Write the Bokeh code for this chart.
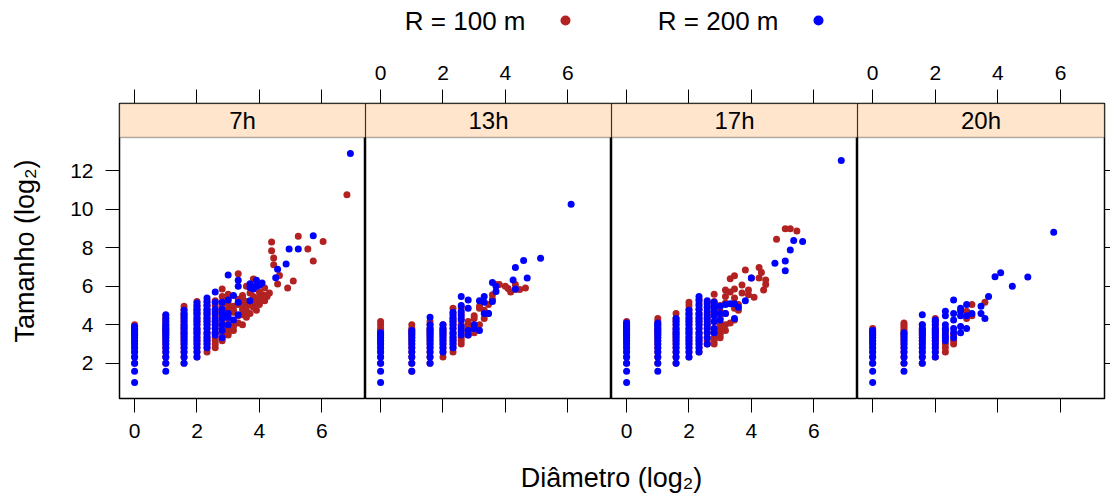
import numpy as np
from bokeh.plotting import figure
from bokeh.models import Range1d, LinearAxis, FixedTicker, BoxAnnotation, Label
from bokeh.layouts import column, row
from bokeh.embed import file_html
from bokeh.resources import INLINE
from bokeh.core.properties import value

FONT = "Liberation Sans"
RED = "#B22222"
BLUE = "#0000FF"
STRIP = "#FFE5CC"

panels = ["7h", "13h", "17h", "20h"]
series_labels = ["R = 100 m", "R = 200 m"]
x_title = "Diâmetro (log₂)"
y_title = "Tamanho (log₂)"
x_ticks = [0, 2, 4, 6]
y_ticks = [2, 4, 6, 8, 10, 12]

# raw diameters of the small-diameter columns (sizes per column listed below)
col_diam = [1, 2, 3, 4, 5, 6, 7, 8]

# ---------------- 7h ----------------
r100_7h_cols = [
    [4, 5, 6, 7, 8, 9, 10, 11, 12, 13, 14, 15, 16],
    [4, 5, 6, 7, 8, 9, 10, 11, 12, 13, 14, 16, 18, 20, 22],
    [4, 5, 6, 7, 8, 9, 10, 11, 12, 14, 16, 18, 20, 22, 24, 28, 31],
    [5, 6, 7, 8, 9, 10, 12, 14, 16, 18, 20, 24, 28, 32, 37],
    [6, 7, 8, 9, 10, 12, 14, 16, 18, 20, 24, 28, 32, 38],
    [7, 8, 9, 10, 12, 14, 16, 18, 22, 26, 32, 38],
    [9, 10, 12, 14, 16, 18, 22, 26, 30, 36, 44, 58],
    [11, 12, 14, 16, 20, 24, 28, 34, 40, 48],
]
r100_7h_d = [9, 9, 9, 9, 9, 10, 10, 10, 10, 10, 11, 11, 11, 11, 11, 11, 12, 12, 12, 12, 12,
             13, 13, 13, 14, 14, 14, 14, 15, 15, 15, 16, 16, 17, 17, 18, 18, 18, 19, 20,
             21, 21, 22, 22, 24, 25, 30, 34, 38, 47, 53, 66, 112]
r100_7h_s = [13, 15, 25, 27, 31, 17, 22, 33, 40, 100, 16, 23, 28, 35, 42, 46, 21, 26, 30, 37, 64,
             24, 34, 50, 30, 44, 64, 83, 27, 36, 42, 33, 52, 40, 47, 38, 46, 60, 44, 50,
             229, 313, 139, 176, 69, 94, 60, 77, 388, 244, 159, 320, 1730]
b200_7h_cols = [
    [2, 3, 4, 5, 6, 7, 8, 9, 10, 11, 12, 13, 14, 15],
    [3, 4, 5, 6, 7, 8, 9, 10, 11, 12, 13, 14, 15, 16, 18, 20, 23],
    [4, 5, 6, 7, 8, 9, 10, 11, 12, 13, 14, 15, 16, 18, 20, 22, 24, 27],
    [5, 6, 7, 8, 9, 10, 11, 12, 13, 14, 16, 18, 20, 22, 24, 26, 28, 31, 35],
    [7, 8, 9, 10, 11, 12, 14, 16, 18, 20, 22, 24, 26, 28, 32, 36, 42],
    [11, 12, 14, 16, 18, 20, 24, 28, 36, 52],
    [10, 13, 16, 20, 24, 28, 36],
    [16, 21, 24, 39, 96],
]
b200_7h_d = [9, 9, 10, 10, 10, 10, 13, 13, 13, 14, 15, 15, 16, 17, 23, 24, 29, 31, 38, 53, 121]
b200_7h_s = [19, 46, 23, 36, 64, 79, 38, 61, 70, 58, 64, 79, 66, 72, 87, 118, 142, 244, 244, 393, 7600]

# ---------------- 13h ----------------
r100_13h_cols = [
    [4, 5, 6, 7, 8, 9, 10, 11, 12, 13, 14, 16, 18],
    [3, 4, 5, 6, 7, 8, 9, 10, 11, 12, 13, 14, 16],
    [4, 5, 6, 7, 8, 9, 10, 11, 12, 13, 14, 16, 18],
    [5, 6, 7, 8, 9, 10, 11, 12, 13, 14, 16],
    [6, 7, 8, 9, 10, 12, 14, 16, 18, 20, 24, 29],
    [8, 9, 10, 12, 14, 16, 20, 24, 30],
    [11, 12, 13, 14, 16, 18],
    [12, 14, 15, 20, 22],
]
r100_13h_d = [9, 9, 9, 10, 10, 11, 11, 12, 12, 13, 14, 16, 17, 18, 20, 20, 22, 25]
r100_13h_s = [16, 29, 31, 20, 27, 24, 33, 40, 47, 68, 68, 64, 59, 52, 68, 57, 57, 60]
b200_13h_cols = [
    [2, 3, 4, 5, 6, 7, 8, 9, 10, 11, 12],
    [3, 4, 5, 6, 7, 8, 9, 10, 11, 12, 13],
    [4, 5, 6, 7, 8, 9, 10, 11, 12, 13, 14, 16, 21],
    [6, 7, 8, 9, 10, 11, 12, 13, 14, 16],
    [7, 8, 9, 10, 11, 12, 14, 16, 18, 20, 22, 25],
    [11, 13, 15, 19, 22, 26, 32, 44],
    [11, 13, 29, 39],
    [14, 16],
]
b200_13h_d = [9, 9, 10, 10, 10, 11, 12, 12, 13, 13, 19, 20, 20, 24, 26, 35, 69]
b200_13h_s = [13, 38, 24, 36, 44, 24, 37, 73, 53, 64, 80, 58, 125, 161, 86, 175, 1225]

# ---------------- 17h ----------------
r100_17h_cols = [
    [4, 5, 6, 7, 8, 9, 10, 11, 12, 13, 14, 15, 16, 18],
    [4, 5, 6, 7, 8, 9, 10, 11, 12, 13, 14, 16, 18, 20],
    [4, 5, 6, 7, 8, 9, 10, 11, 12, 14, 16, 18, 20, 24],
    [5, 6, 7, 8, 9, 10, 12, 14, 16, 18, 20, 24, 28, 32, 36],
    [6, 7, 8, 9, 10, 12, 14, 16, 18, 20, 24, 28, 34, 40],
    [8, 9, 10, 12, 14, 16, 20, 24, 30, 36],
    [8, 9, 10, 12, 14, 18, 24, 30, 37, 48],
    [10, 11, 12, 14, 16, 20, 26, 32],
]
r100_17h_d = [9, 9, 9, 9, 9, 9, 10, 10, 10, 11, 11, 11, 11, 11, 12, 12, 13, 13, 14, 15, 15,
              16, 17, 19, 19, 20, 21, 22, 22, 28, 34, 38, 44]
r100_17h_s = [13, 16, 24, 35, 44, 56, 17, 52, 84, 19, 29, 42, 58, 93, 27, 33, 50, 67, 115, 47, 56,
              86, 43, 86, 125, 105, 56, 68, 80, 347, 508, 508, 468]
b200_17h_cols = [
    [2, 3, 4, 5, 6, 7, 8, 9, 10, 11, 12, 13, 14, 15, 16, 17],
    [3, 4, 5, 6, 7, 8, 9, 10, 11, 12, 13, 14, 15, 16, 17],
    [4, 5, 6, 7, 8, 9, 10, 11, 12, 13, 14, 16, 18, 20],
    [5, 6, 7, 8, 9, 10, 11, 12, 13, 14, 16, 18, 20, 22, 24, 27],
    [6, 7, 8, 9, 10, 11, 12, 14, 16, 18, 20, 22, 24, 28, 32, 38, 44],
    [8, 10, 12, 14, 16, 18, 20, 22, 26, 30, 34, 38],
    [12, 14, 18, 22, 26, 29, 33, 36],
    [19, 24, 31],
]
b200_17h_d = [9, 9, 10, 11, 11, 12, 14, 16, 27, 34, 34, 38, 41, 50, 118]
b200_17h_s = [24, 33, 34, 20, 34, 30, 38, 86, 146, 112, 159, 235, 331, 320, 5900]

# ---------------- 20h ----------------
r100_20h_cols = [
    [4, 5, 6, 7, 8, 9, 10, 11, 12, 13, 14],
    [4, 5, 6, 7, 8, 9, 10, 11, 12, 13, 14, 15, 16, 17],
    [4, 5, 6, 7, 8, 9, 10, 11, 12, 13, 14, 16],
    [5, 6, 7, 8, 9, 10, 11, 12, 13, 14, 16, 18, 20],
    [6, 7, 8, 10, 12],
    [8, 9, 11],
    [],
    [20, 26],
]
r100_20h_d = [9, 9, 12]
r100_20h_s = [22, 33, 36]
b200_20h_cols = [
    [2, 3, 4, 5, 6, 7, 8, 9, 10, 11, 12, 13],
    [3, 4, 5, 6, 7, 8, 9, 10, 11, 12],
    [4, 5, 6, 7, 8, 9, 10, 11, 12, 13, 14, 16, 23],
    [5, 6, 7, 8, 9, 10, 11, 12, 13, 14, 16, 18, 19],
    [9, 10, 11, 13, 14, 16, 22, 26],
    [10, 12, 14, 19, 24, 39],
    [12, 15, 22, 26, 29],
    [14, 22, 33],
]
b200_20h_d = [9, 11, 11, 12, 13, 15, 17, 22, 31, 55]
b200_20h_s = [24, 24, 31, 20, 44, 90, 104, 64, 89, 446]


def to_log(cols, extra_d, extra_s):
    d, s = [], []
    for diam, sizes in zip(col_diam, cols):
        d.extend([diam] * len(sizes))
        s.extend(sizes)
    d.extend(extra_d)
    s.extend(extra_s)
    return np.log2(np.array(d, dtype=float)), np.log2(np.array(s, dtype=float))


data = {
    "7h": (to_log(r100_7h_cols, r100_7h_d, r100_7h_s), to_log(b200_7h_cols, b200_7h_d, b200_7h_s)),
    "13h": (to_log(r100_13h_cols, r100_13h_d, r100_13h_s), to_log(b200_13h_cols, b200_13h_d, b200_13h_s)),
    "17h": (to_log(r100_17h_cols, r100_17h_d, r100_17h_s), to_log(b200_17h_cols, b200_17h_d, b200_17h_s)),
    "20h": (to_log(r100_20h_cols, r100_20h_d, r100_20h_s), to_log(b200_20h_cols, b200_20h_d, b200_20h_s)),
}

all_x = np.concatenate([s[0] for v in data.values() for s in v])
all_y = np.concatenate([s[1] for v in data.values() for s in v])
xmin, xmax = all_x.min(), all_x.max()
ymin, ymax = all_y.min(), all_y.max()
x_lo, x_hi = xmin - 0.07 * (xmax - xmin), xmax + 0.07 * (xmax - xmin)
y_lo, y_hi = ymin - 0.07 * (ymax - ymin), ymax + 0.07 * (ymax - ymin)

STRIP_PX, PANEL_PX = 34, 261
y_top = y_hi + (y_hi - y_lo) * STRIP_PX / PANEL_PX

widths = [365, 246, 246, 253]
PANEL_H = 410


def make_axis(ticks, show_labels, tick_out=14, standoff=12):
    ax = LinearAxis(ticker=FixedTicker(ticks=ticks))
    ax.axis_line_color = None
    ax.major_tick_out = tick_out
    ax.major_tick_in = 0
    ax.minor_tick_line_color = None
    ax.major_tick_line_color = "black"
    ax.major_tick_line_width = 1
    ax.major_label_text_font = FONT
    ax.major_label_text_font_size = "21px"
    ax.major_label_text_color = "black"
    ax.major_label_standoff = standoff
    if not show_labels:
        ax.major_label_overrides = {t: "" for t in ticks}
    return ax


figs = []
for i, name in enumerate(panels):
    p = figure(width=widths[i], height=PANEL_H,
               x_range=Range1d(x_lo, x_hi), y_range=Range1d(y_lo, y_top),
               x_axis_location=None, y_axis_location=None,
               toolbar_location=None, output_backend="svg",
               min_border_left=119 if i == 0 else 0,
               min_border_right=6 if i == 3 else 0,
               min_border_top=58, min_border_bottom=57)
    p.grid.visible = False
    p.outline_line_color = "black"
    p.outline_line_width = 1.5
    p.background_fill_color = "white"
    p.border_fill_color = "white"

    p.add_layout(make_axis(x_ticks, i in (0, 2), standoff=11), "below")
    p.add_layout(make_axis(x_ticks, i in (1, 3), standoff=10), "above")
    if i == 0:
        ay = make_axis(y_ticks, True, standoff=12)
        ay.axis_label = y_title
        ay.axis_label_text_font = FONT
        ay.axis_label_text_font_size = "27px"
        ay.axis_label_text_font_style = "normal"
        ay.axis_label_text_color = "black"
        ay.axis_label_standoff = 27
        p.add_layout(ay, "left")
    if i == 3:
        p.add_layout(make_axis(y_ticks, False, tick_out=6, standoff=0), "right")

    p.add_layout(BoxAnnotation(bottom=y_hi, top=y_top, fill_color=STRIP, fill_alpha=1.0,
                               line_color="black", line_width=1.5))
    p.add_layout(Label(x=(x_lo + x_hi) / 2, y=(y_hi + y_top) / 2, text=name,
                       text_align="center", text_baseline="middle",
                       text_font=FONT, text_font_size="24px", text_color="black"))

    (rx, ry), (bx, by) = data[name]
    p.scatter(rx, ry, size=7, marker="circle", fill_color=RED, line_color=None)
    p.scatter(bx, by, size=7, marker="circle", fill_color=BLUE, line_color=None)
    figs.append(p)

# key (legend) on top
leg = figure(width=1110, height=45, x_range=Range1d(0, 1110), y_range=Range1d(45, 0),
             toolbar_location=None, output_backend="svg",
             x_axis_location=None, y_axis_location=None, min_border=0)
leg.grid.visible = False
leg.outline_line_color = None
leg.text(x=[525, 778], y=[20, 20], text=series_labels, text_align="right",
         text_baseline="middle", text_font=value(FONT), text_font_size="26px", text_color="black")
leg.scatter(x=[565], y=[20], size=10, fill_color=RED, line_color=None)
leg.scatter(x=[818], y=[20], size=10, fill_color=BLUE, line_color=None)

# x-axis title below
xt = figure(width=1110, height=43, x_range=Range1d(0, 1110), y_range=Range1d(43, 0),
            toolbar_location=None, output_backend="svg",
            x_axis_location=None, y_axis_location=None, min_border=0)
xt.grid.visible = False
xt.outline_line_color = None
xt.text(x=[611], y=[22], text=[x_title], text_align="center", text_baseline="middle",
        text_font=value(FONT), text_font_size="27px", text_color="black")

layout = column(leg, row(*figs), xt)
open("out.html", "w").write(file_html(layout, INLINE))
